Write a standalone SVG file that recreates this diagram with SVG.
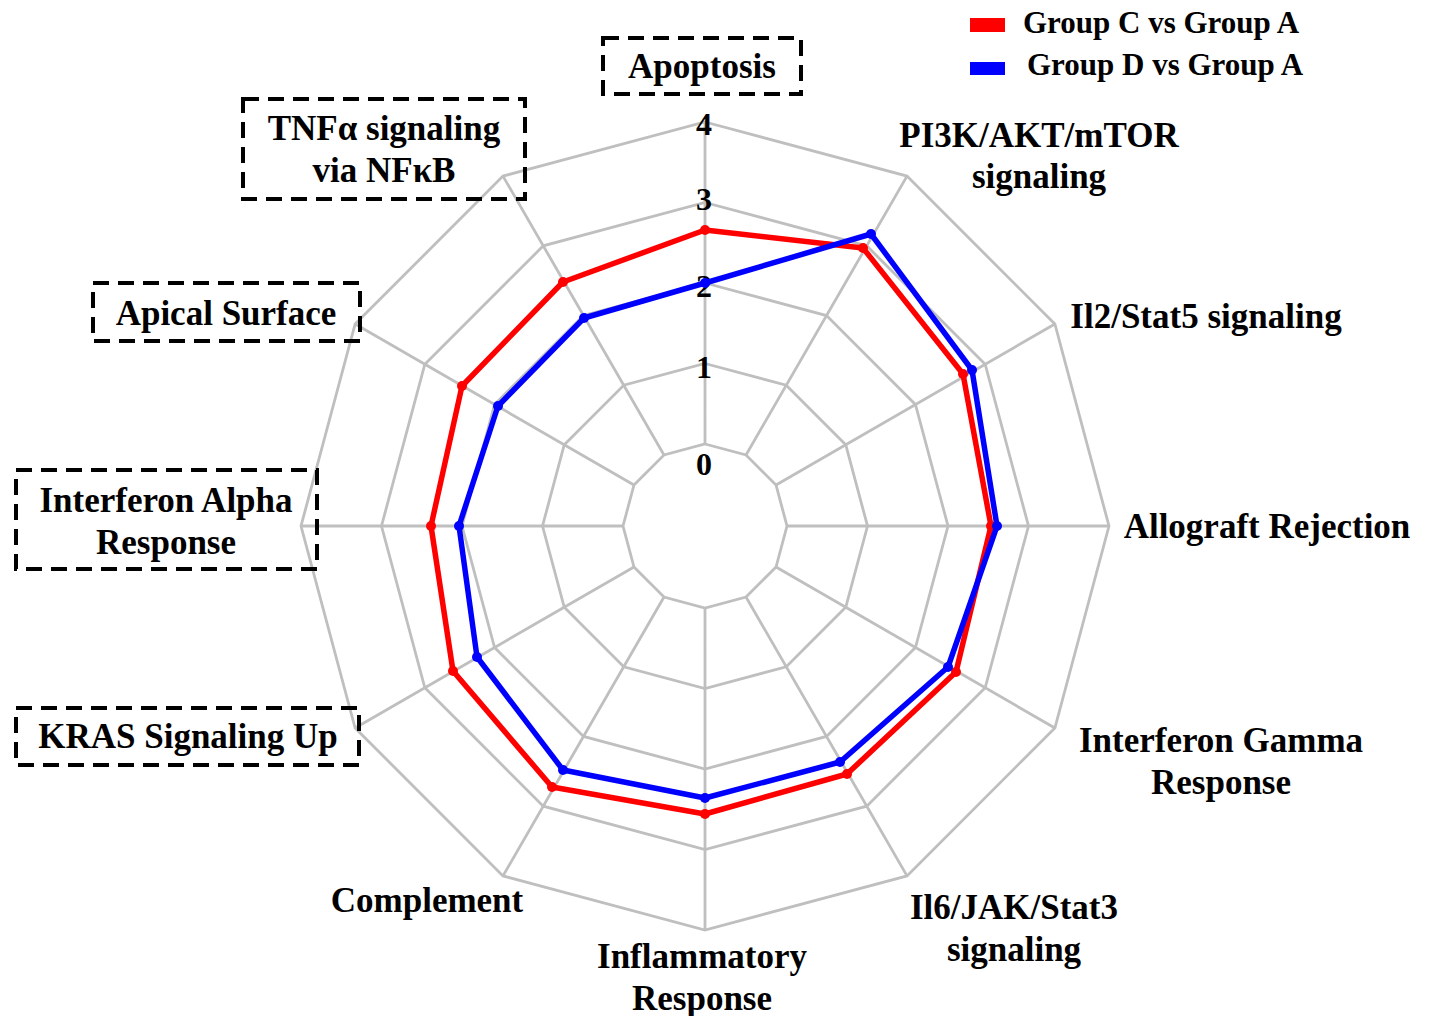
<svg xmlns="http://www.w3.org/2000/svg" width="1430" height="1016" viewBox="0 0 1430 1016">
<style>
.grid{fill:none;stroke:#bfbfbf;stroke-width:2.8;stroke-linejoin:miter}
.lbl{font-family:"Liberation Serif","Times New Roman",serif;font-weight:bold;font-size:35px;fill:#000;text-anchor:middle}
.num{font-family:"Liberation Serif","Times New Roman",serif;font-weight:bold;font-size:32px;fill:#000;text-anchor:middle}
.leg{font-family:"Liberation Serif","Times New Roman",serif;font-weight:bold;font-size:31px;fill:#000}
.box{fill:none;stroke:#000;stroke-width:4;stroke-dasharray:16 9}
.red{fill:none;stroke:#ff0000;stroke-width:5.5;stroke-linejoin:round}
.blue{fill:none;stroke:#0000ff;stroke-width:5.5;stroke-linejoin:round}
</style>
<rect width="1430" height="1016" fill="#fff"/>
<g id="grid" transform="translate(705,526)">
<polygon class="grid" points="0,-82 41,-71.01 71.01,-41 82,0 71.01,41 41,71.01 0,82 -41,71.01 -71.01,41 -82,0 -71.01,-41 -41,-71.01"/>
<polygon class="grid" points="0,-162.5 81.25,-140.73 140.73,-81.25 162.5,0 140.73,81.25 81.25,140.73 0,162.5 -81.25,140.73 -140.73,81.25 -162.5,0 -140.73,-81.25 -81.25,-140.73"/>
<polygon class="grid" points="0,-243 121.5,-210.44 210.44,-121.5 243,0 210.44,121.5 121.5,210.44 0,243 -121.5,210.44 -210.44,121.5 -243,0 -210.44,-121.5 -121.5,-210.44"/>
<polygon class="grid" points="0,-323.5 161.75,-280.16 280.16,-161.75 323.5,0 280.16,161.75 161.75,280.16 0,323.5 -161.75,280.16 -280.16,161.75 -323.5,0 -280.16,-161.75 -161.75,-280.16"/>
<polygon class="grid" points="0,-404 202,-349.87 349.87,-202 404,0 349.87,202 202,349.87 0,404 -202,349.87 -349.87,202 -404,0 -349.87,-202 -202,-349.87"/>
<path class="grid" d="M0,-82L0,-404M41,-71.01L202,-349.87M71.01,-41L349.87,-202M82,0L404,0M71.01,41L349.87,202M41,71.01L202,349.87M0,82L0,404M-41,71.01L-202,349.87M-71.01,41L-349.87,202M-82,0L-404,0M-71.01,-41L-349.87,-202M-41,-71.01L-202,-349.87"/>
</g>
<g id="scale">
<text class="num" x="704" y="135">4</text>
<text class="num" x="704" y="210">3</text>
<text class="num" x="704" y="297">2</text>
<text class="num" x="704" y="378">1</text>
<text class="num" x="704" y="475">0</text>
</g>
<g id="connectors">
<g id="series-c">
<polygon class="red" points="705,230 863,248 963,374 991,526 956,672 847,774 705,814 552,787 453,671 431,526 462,386 563,282"/>
<g fill="#ff0000">
<circle cx="705" cy="230" r="5"/><circle cx="863" cy="248" r="5"/><circle cx="963" cy="374" r="5"/><circle cx="991" cy="526" r="5"/><circle cx="956" cy="672" r="5"/><circle cx="847" cy="774" r="5"/><circle cx="705" cy="814" r="5"/><circle cx="552" cy="787" r="5"/><circle cx="453" cy="671" r="5"/><circle cx="431" cy="526" r="5"/><circle cx="462" cy="386" r="5"/><circle cx="563" cy="282" r="5"/>
</g>
</g>
<g id="series-d">
<polygon class="blue" points="705,283 871,234 972,370 997,526 948,667 840,762 705,798 563,770 477,657 459,526 498,406 584,318"/>
<g fill="#0000ff">
<circle cx="705" cy="283" r="5"/><circle cx="871" cy="234" r="5"/><circle cx="972" cy="370" r="5"/><circle cx="997" cy="526" r="5"/><circle cx="948" cy="667" r="5"/><circle cx="840" cy="762" r="5"/><circle cx="705" cy="798" r="5"/><circle cx="563" cy="770" r="5"/><circle cx="477" cy="657" r="5"/><circle cx="459" cy="526" r="5"/><circle cx="498" cy="406" r="5"/><circle cx="584" cy="318" r="5"/>
</g>
</g>
</g>
<g id="label-apoptosis">
<rect class="box" x="603" y="38" width="198" height="56"/>
<text class="lbl" x="702" y="78">Apoptosis</text>
</g>
<g id="label-pi3k">
<text class="lbl" x="1039" y="147">PI3K/AKT/mTOR</text>
<text class="lbl" x="1039" y="188">signaling</text>
</g>
<g id="label-il2">
<text class="lbl" x="1206" y="328">Il2/Stat5 signaling</text>
</g>
<g id="label-allograft">
<text class="lbl" x="1267" y="538">Allograft Rejection</text>
</g>
<g id="label-ifng">
<text class="lbl" x="1221" y="752">Interferon Gamma</text>
<text class="lbl" x="1221" y="794">Response</text>
</g>
<g id="label-il6">
<text class="lbl" x="1014" y="919">Il6/JAK/Stat3</text>
<text class="lbl" x="1014" y="961">signaling</text>
</g>
<g id="label-inflammatory">
<text class="lbl" x="702" y="968">Inflammatory</text>
<text class="lbl" x="702" y="1010">Response</text>
</g>
<g id="label-complement">
<text class="lbl" x="427" y="912">Complement</text>
</g>
<g id="label-kras">
<rect class="box" x="16" y="708" width="343" height="57"/>
<text class="lbl" x="188" y="748">KRAS Signaling Up</text>
</g>
<g id="label-ifna">
<rect class="box" x="16" y="470" width="301" height="99"/>
<text class="lbl" x="166" y="512">Interferon Alpha</text>
<text class="lbl" x="166" y="554">Response</text>
</g>
<g id="label-apical">
<rect class="box" x="93" y="283" width="267" height="58"/>
<text class="lbl" x="226" y="325">Apical Surface</text>
</g>
<g id="label-tnfa">
<rect class="box" x="243" y="99" width="282" height="100"/>
<text class="lbl" x="384" y="140">TNFα signaling</text>
<text class="lbl" x="384" y="182">via NFκB</text>
</g>
<g id="legend">
<rect x="970" y="18" width="35" height="14" fill="#ff0000"/>
<text class="leg" x="1023" y="33">Group C vs Group A</text>
<rect x="970" y="62" width="35" height="13" fill="#0000ff"/>
<text class="leg" x="1027" y="75">Group D vs Group A</text>
</g>
</svg>
